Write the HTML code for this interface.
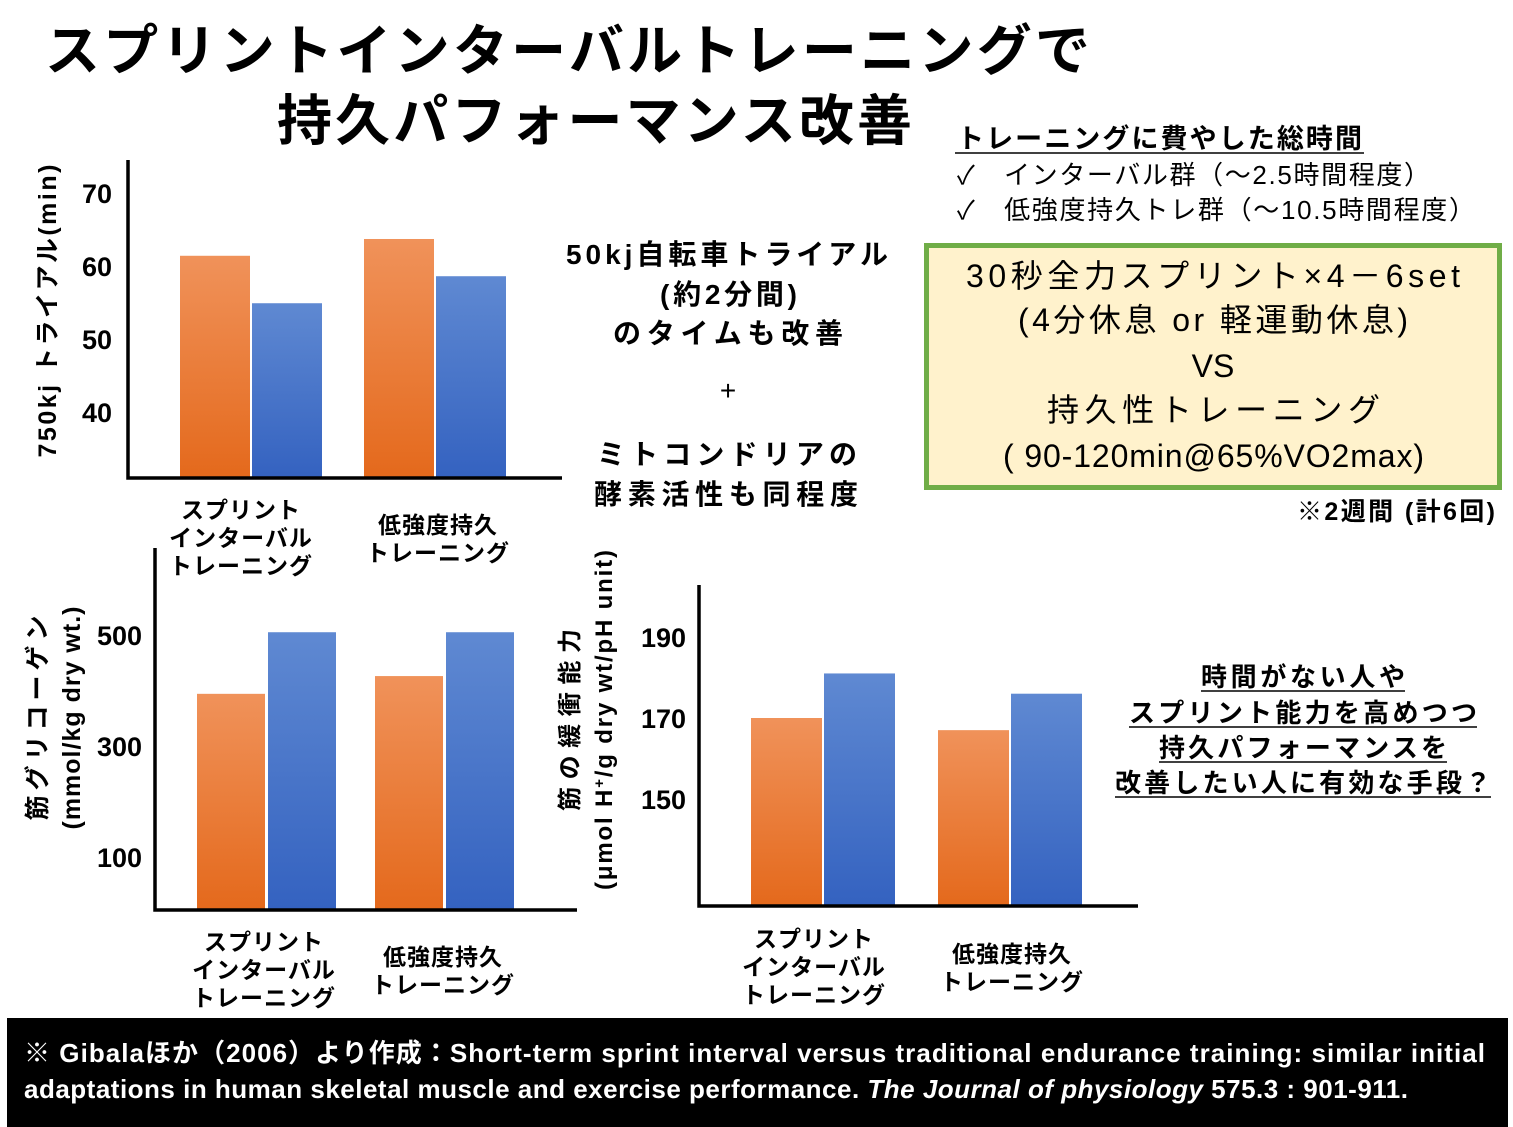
<!DOCTYPE html>
<html><head><meta charset="utf-8"><style>
html,body{margin:0;padding:0;background:#fff}
svg{display:block}
text{font-family:"Liberation Sans","Noto Sans CJK JP",sans-serif}
.b{font-weight:bold}
</style></head><body>
<svg id="s" width="1513" height="1127" viewBox="0 0 1513 1127" xmlns="http://www.w3.org/2000/svg">
<defs>
<linearGradient id="go" x1="0" y1="0" x2="0" y2="1"><stop offset="0" stop-color="#f0925a"/><stop offset="1" stop-color="#e4691c"/></linearGradient>
<linearGradient id="gb" x1="0" y1="0" x2="0" y2="1"><stop offset="0" stop-color="#5f89d2"/><stop offset="1" stop-color="#3462c0"/></linearGradient>
</defs>
<text class="b" x="45" y="70" font-size="55" textLength="1045" lengthAdjust="spacing">スプリントインターバルトレーニングで</text>
<text class="b" x="277" y="140" font-size="55" textLength="635" lengthAdjust="spacing">持久パフォーマンス改善</text>

<text class="b" x="957" y="148" font-size="27" textLength="405" lengthAdjust="spacing">トレーニングに費やした総時間</text>
<line x1="955" y1="153" x2="1364" y2="153" stroke="#000" stroke-width="1.5"/>
<text x="957" y="184" font-size="26" textLength="473" lengthAdjust="spacing">✓　インターバル群（～2.5時間程度）</text>
<text x="957" y="219" font-size="26" textLength="518" lengthAdjust="spacing">✓　低強度持久トレ群（～10.5時間程度）</text>

<rect x="926.5" y="245.5" width="573" height="242" fill="#fff2cc" stroke="#70ad47" stroke-width="5"/>
<g font-size="32">
<text x="966" y="287" textLength="494" lengthAdjust="spacing">30秒全力スプリント×4－6set</text>
<text x="1018" y="331" textLength="390" lengthAdjust="spacing">(4分休息 or 軽運動休息)</text>
<text x="1213" y="377" text-anchor="middle">VS</text>
<text x="1047" y="421" textLength="333" lengthAdjust="spacing">持久性トレーニング</text>
<text x="1003" y="467" textLength="421" lengthAdjust="spacing">( 90-120min@65%VO2max)</text>
</g>
<text class="b" x="1297" y="520" font-size="25" textLength="198" lengthAdjust="spacing">※2週間 (計6回)</text>

<g class="b" font-size="28">
<text x="566" y="264" textLength="322" lengthAdjust="spacing">50kj自転車トライアル</text>
<text x="660" y="304" textLength="137" lengthAdjust="spacing">(約2分間)</text>
<text x="613" y="343" textLength="230" lengthAdjust="spacing">のタイムも改善</text>
<text x="728" y="400" font-weight="normal" text-anchor="middle">+</text>
<text x="597" y="464" textLength="260" lengthAdjust="spacing">ミトコンドリアの</text>
<text x="594" y="504" textLength="264" lengthAdjust="spacing">酵素活性も同程度</text>
</g>

<g class="b" font-size="26">
<text x="1201" y="686" textLength="204" lengthAdjust="spacing">時間がない人や</text>
<text x="1129" y="722" textLength="348" lengthAdjust="spacing">スプリント能力を高めつつ</text>
<text x="1159" y="757" textLength="288" lengthAdjust="spacing">持久パフォーマンスを</text>
<text x="1115" y="792" textLength="376" lengthAdjust="spacing">改善したい人に有効な手段？</text>
</g>
<g stroke="#000" stroke-width="1.5">
<line x1="1201" y1="691" x2="1405" y2="691"/><line x1="1129" y1="727" x2="1477" y2="727"/>
<line x1="1159" y1="762" x2="1447" y2="762"/><line x1="1115" y1="797" x2="1491" y2="797"/>
</g>

<rect x="7" y="1018" width="1501" height="109" fill="#000"/>
<text class="b" x="24" y="1062" font-size="26" fill="#fff" textLength="1461" lengthAdjust="spacing">※ Gibalaほか（2006）より作成：Short-term sprint interval versus traditional endurance training: similar initial</text>
<text class="b" x="24" y="1098" font-size="26" fill="#fff" textLength="1384" lengthAdjust="spacing">adaptations in human skeletal muscle and exercise performance. <tspan font-style="italic">The Journal of physiology</tspan> 575.3 : 901-911.</text>
<g id="charts"></g>
</svg>
<script>
// Chart 1: 750kj trial time (min)
const c1Ticks = [40, 50, 60, 70];
const c1Sprint = [61.4, 63.7];
const c1Endur = [54.9, 58.6];
// Chart 2: muscle glycogen
const c2Ticks = [100, 300, 500];
const c2Sprint = [394, 426];
const c2Endur = [505, 505];
// Chart 3: buffering capacity
const c3Ticks = [150, 170, 190];
const c3Sprint = [170, 167];
const c3Endur = [181, 176];
const groups = ["sprint-interval", "endurance"];

const NS = "http://www.w3.org/2000/svg";
const root = document.getElementById("charts");
function mk(tag, attrs, parent) {
  const e = document.createElementNS(NS, tag);
  for (const k in attrs) e.setAttribute(k, attrs[k]);
  (parent || root).appendChild(e);
  return e;
}
function chart(cfg) {
  const g = mk("g", {});
  
  
  const y = v => cfg.y0 - (v - cfg.v0) * cfg.k;
  cfg.ticks.forEach(t => {
    const tx = mk("text", {x: cfg.tickX, y: y(t) + 10, "font-size": 27, "font-weight": "bold", "text-anchor": "end"}, g);
    tx.textContent = t;
    
    
  });
  [cfg.sprint, cfg.endur].forEach((arr, si) => {
    arr.forEach((v, i) => {
      const x = cfg.barX[i] + si * cfg.step;
      const r = mk("rect", {x: x, y: y(v), width: cfg.bw, height: cfg.base - y(v), fill: si ? "url(#gb)" : "url(#go)"}, g);
      
      
    });
  });
  const ax = mk("path", {d: `M${cfg.ax} ${cfg.top} V${cfg.base} H${cfg.axEnd}`, fill: "none", stroke: "#000", "stroke-width": 3.5}, g);
  
  
  cfg.labels.forEach((lines, i) => {
    lines.forEach((ln, j) => {
      const t = mk("text", {x: cfg.labX[i], y: cfg.labY[i] + j * 28, "font-size": 23, "font-weight": "bold", "text-anchor": "middle", "letter-spacing": 1}, g);
      t.textContent = ln;
      
      
    });
  });
  cfg.ytitle.forEach((ln, j) => {
    const L = cfg.ytLen[j];
    const t = mk("text", {x: -L / 2, y: 0, "font-size": cfg.ytSize || 25, "font-weight": "bold", textLength: L, lengthAdjust: "spacing", transform: `translate(${cfg.ytX + j * 34},${cfg.ytY}) rotate(-90)`}, g);
    t.innerHTML = ln;
    
    
  });
}
chart({name: "trial-time-chart", ticks: c1Ticks, sprint: c1Sprint, endur: c1Endur, v0: 40, y0: 412, k: 7.3,
  base: 478, top: 160, ax: 128, axEnd: 562, tickX: 112, barX: [180, 364], step: 72, bw: 70,
  labels: [["スプリント","インターバル","トレーニング"], ["低強度持久","トレーニング"]], labX: [241, 438], labY: [518, 533],
  ytitle: ["750kj トライアル(min)"], ytLen: [293], ytX: 56, ytY: 311});
chart({name: "glycogen-chart", ticks: c2Ticks, sprint: c2Sprint, endur: c2Endur, v0: 100, y0: 857, k: 0.555,
  base: 910, top: 548, ax: 155, axEnd: 577, tickX: 142, barX: [197, 375], step: 71, bw: 68,
  labels: [["スプリント","インターバル","トレーニング"], ["低強度持久","トレーニング"]], labX: [264, 443], labY: [950, 965],
  ytitle: ["筋グリコーゲン", "(mmol/kg dry wt.)"], ytLen: [205, 223], ytX: 46, ytY: 718});
chart({name: "buffer-capacity-chart", ticks: c3Ticks, sprint: c3Sprint, endur: c3Endur, v0: 150, y0: 799, k: 4.05,
  base: 906, top: 585, ax: 699, axEnd: 1138, tickX: 686, barX: [751, 938], step: 73, bw: 71,
  labels: [["スプリント","インターバル","トレーニング"], ["低強度持久","トレーニング"]], labX: [814, 1012], labY: [947, 962],
  ytitle: ["筋の緩衝能力", "(μmol H<tspan baseline-shift='super' font-size='15'>+</tspan>/g dry wt/pH unit)"], ytLen: [182, 340], ytX: 578, ytY: 720, ytSize: 24});
</script>
</body></html>
